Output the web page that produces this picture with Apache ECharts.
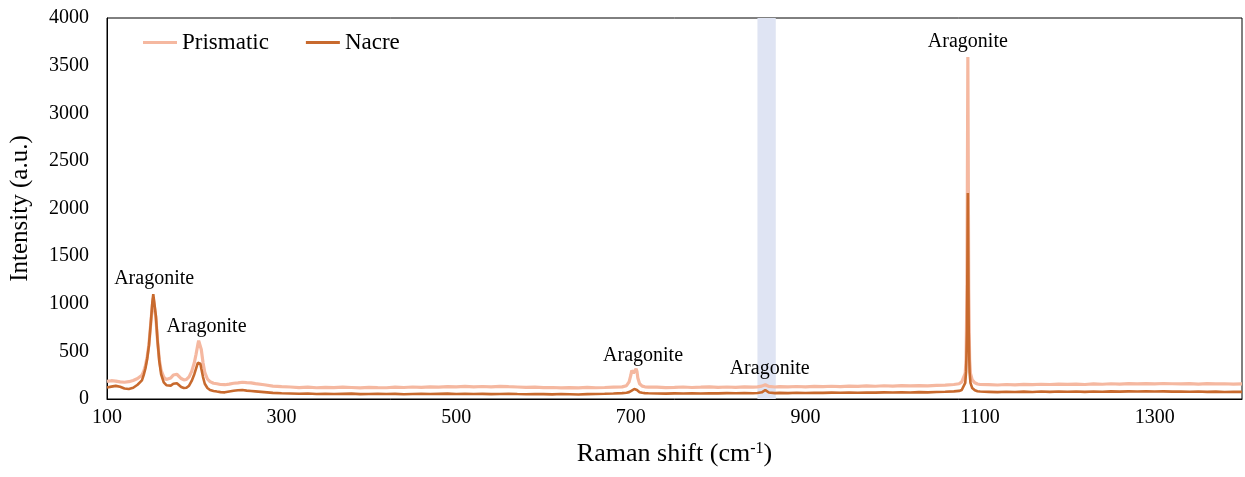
<!DOCTYPE html>
<html>
<head>
<meta charset="utf-8">
<title>Raman spectra: Prismatic vs Nacre</title>
<script src="https://cdn.jsdelivr.net/npm/echarts@6/dist/echarts.min.js"></script>
<style>
  html, body { margin: 0; padding: 0; background: #fff; }
  #chart { width: 1245px; height: 477px; }
</style>
</head>
<body>
<div id="chart"></div>
<script>
// Raman shift (cm-1) sampled per region, with matching intensities (a.u.)
const shiftLow = [100,105,110,115,120,125,130,135,140,
  142,144,146,148,150,152,153,154,156,158,160,162,165,168,170,
  173,176,178,180,182,185,188,191,194,197,
  200,202,204,205,206,207,208,210,212,215,218,222,
  226,230,235,240,245,250,255,260,265,270,280,290,300];
const prismaticLow = [185,192,188,180,176,182,195,215,250,
  290,350,440,570,780,990,1060,1040,850,600,410,300,230,205,200,
  220,252,266,260,240,215,200,205,232,290,
  380,470,570,612,630,600,520,380,280,210,182,165,
  160,152,150,156,165,170,176,172,170,162,150,136,130];
const nacreLow = [120,130,138,128,110,105,118,150,195,
  250,320,420,560,780,1020,1100,1085,870,600,390,260,175,145,135,
  140,160,170,166,150,125,115,118,140,190,
  260,320,380,400,395,370,320,230,160,115,95,85,
  78,72,70,78,86,92,94,88,84,80,72,64,60];

const shiftMid = [310,320,330,340,350,360,370,380,390,400,
  410,420,430,440,450,460,470,480,490,500,
  510,520,530,540,550,560,570,580,590,600,
  610,620,630,640,650,660,670,680,690];
const prismaticMid = [126,120,124,118,122,119,125,121,117,123,
  120,118,124,121,126,122,128,125,130,127,
  132,128,131,127,133,129,126,122,124,119,
  121,116,120,117,122,118,121,124,127];
const nacreMid = [58,55,57,53,55,52,54,56,51,53,
  55,52,54,50,53,55,52,54,56,53,
  55,52,54,51,53,55,52,50,53,51,
  49,52,50,48,51,53,55,58,62];

const shift700 = [695,698,700,701,702,703,704,705,706,707,708,710,713,716,720];
const prismatic700 = [140,180,250,300,318,270,255,290,318,290,220,160,135,128,125];
const nacre700 = [66,72,80,88,95,100,105,108,104,95,85,72,65,62,60];

const shiftHigh = [730,740,750,760,770,780,790,800,810,820,830,840,
  845,850,852,854,856,858,860,865,870,
  880,890,900,910,920,930,940,950,960,970,
  980,990,1000,1010,1020,1030,1040,1050,1060,1070];
const prismaticHigh = [124,119,122,126,121,124,128,123,126,122,127,125,
  128,135,142,150,140,132,128,126,130,
  127,131,128,132,129,134,130,135,132,137,
  134,139,136,140,137,141,138,143,146,152];
const nacreHigh = [58,56,59,57,60,58,61,59,62,60,63,61,
  63,70,80,95,82,68,63,62,64,
  62,65,63,66,64,67,65,68,66,69,
  67,70,68,71,69,72,70,73,76,80];

const shift1086 = [1076,1079,1081,1083,1084,1085,1086,1087,1088,1089,1091,1094,1097,1100];
const prismatic1086 = [160,180,200,270,420,1200,3590,1150,420,270,200,170,158,152];
const nacre1086 = [85,95,110,170,290,720,2163,700,280,170,115,92,82,78];

const shiftTail = [1110,1120,1130,1140,1150,1160,1170,1180,1190,1200,
  1210,1220,1230,1240,1250,1260,1270,1280,1290,1300,
  1310,1320,1330,1340,1350,1360,1370,1380,1390,1400];
const prismaticTail = [150,147,152,149,154,150,155,152,157,153,
  156,152,158,155,160,156,161,158,162,159,
  163,160,158,162,157,161,158,160,156,158];
const nacreTail = [75,72,76,73,77,74,78,75,79,76,
  78,75,79,76,80,77,80,78,81,78,
  80,77,79,76,78,75,77,74,76,75];

// Peak labels and the highlighted shift band
const peakName = 'Aragonite';
const labelShift = [154, 214, 714, 859, 1086];
const labelIntensity = [1100, 600, 300, 165, 3590];
const bandShift = [845, 866];

const seriesNames = ['Prismatic', 'Nacre'];
const colors = ['#f5b8a0', '#c86a2e'];

const shift = [].concat(shiftLow, shiftMid, shift700, shiftHigh, shift1086, shiftTail);
const prismatic = [].concat(prismaticLow, prismaticMid, prismatic700, prismaticHigh, prismatic1086, prismaticTail);
const nacre = [].concat(nacreLow, nacreMid, nacre700, nacreHigh, nacre1086, nacreTail);

const pair = (ys) => shift.map((x, i) => [x, ys[i]]);

const font = 'Liberation Serif';
const chart = echarts.init(document.getElementById('chart'), null, { renderer: 'canvas' });

chart.setOption({
  animation: false,
  backgroundColor: '#fff',
  textStyle: { fontFamily: font, color: '#000' },
  grid: {
    left: 106, right: 1, top: 18, bottom: 78,
    show: true, borderColor: '#000', borderWidth: 1, backgroundColor: 'transparent'
  },
  legend: {
    data: seriesNames,
    left: 143, top: 31, padding: 0,
    icon: 'rect', itemWidth: 34, itemHeight: 3, itemGap: 37,
    textStyle: { fontFamily: font, fontSize: 23, color: '#000' }
  },
  xAxis: {
    type: 'value', min: 100, max: 1400, interval: 100,
    name: 'Raman shift (cm{sup|-1})',
    nameLocation: 'middle', nameGap: 42,
    nameTextStyle: {
      fontFamily: font, fontSize: 26, color: '#000',
      rich: { sup: { fontFamily: font, fontSize: 16, color: '#000', verticalAlign: 'top', padding: [0, 0, 10, 0] } }
    },
    axisLine: { show: true, onZero: false, lineStyle: { color: '#000', width: 1 } },
    axisTick: { show: false },
    splitLine: { show: false },
    axisLabel: {
      fontFamily: font, fontSize: 20, color: '#000', margin: 9,
      formatter: (v) => ((v - 100) % 200 === 0 ? String(v) : '')
    }
  },
  yAxis: {
    type: 'value', min: 0, max: 4000, interval: 500,
    name: 'Intensity (a.u.)',
    nameLocation: 'middle', nameGap: 74,
    nameTextStyle: { fontFamily: font, fontSize: 25, color: '#000' },
    axisLine: { show: true, lineStyle: { color: '#000', width: 1 } },
    axisTick: { show: false },
    splitLine: { show: false },
    axisLabel: { fontFamily: font, fontSize: 20, color: '#000', margin: 18, formatter: (v) => String(v) }
  },
  series: [
    {
      name: seriesNames[0], type: 'line', data: pair(prismatic),
      showSymbol: false, symbol: 'none', color: colors[0],
      lineStyle: { width: 3.2, color: colors[0] },
      markArea: {
        silent: true,
        itemStyle: { color: '#dfe4f3' },
        data: [[{ xAxis: bandShift[0] }, { xAxis: bandShift[1] }]]
      },
      z: 2
    },
    {
      name: seriesNames[1], type: 'line', data: pair(nacre),
      showSymbol: false, symbol: 'none', color: colors[1],
      lineStyle: { width: 2.6, color: colors[1] },
      z: 3
    },
    {
      name: 'labels', type: 'scatter', symbolSize: 0, silent: true,
      itemStyle: { opacity: 1 },
      data: labelShift.map((x, i) => [x, labelIntensity[i]]),
      label: {
        show: true, position: 'top', distance: 5,
        formatter: peakName,
        fontFamily: font, fontSize: 20, color: '#000'
      },
      z: 4
    }
  ]
});
</script>
</body>
</html>
